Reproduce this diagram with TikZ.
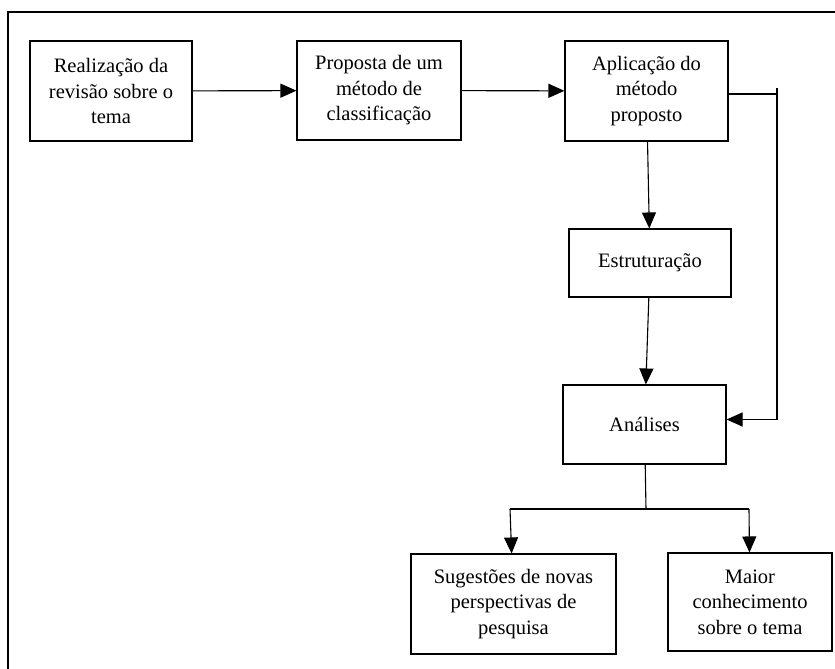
\documentclass[tikz,border=0pt]{standalone}
\usepackage{fontspec}
\setmainfont{Liberation Serif}
\usetikzlibrary{arrows.meta}

\begin{document}
\begin{tikzpicture}[x=1pt,y=-1pt,line width=1.1pt,
    >={Triangle[length=16pt,width=14pt]}]

      \useasboundingbox (0,0) rectangle (835,669);
      \draw[line width=1.3pt] (8,669) -- (8,12) -- (835,12);

      \begin{scope}[every node/.style={rectangle,draw,align=center,inner sep=0pt,
          font=\fontsize{20.5}{25.5}\selectfont}]
        \node[minimum width=162pt,minimum height=100pt] (real) at (111,91)    {Realização da\\revisão sobre o\\tema};
        \node[minimum width=164pt,minimum height=99pt]  (prop) at (379,90.5)  {Proposta de um\\método de\\classificação};
        \node[minimum width=163pt,minimum height=100pt] (apli) at (646.5,91)  {Aplicação do\\método\\proposto};
        \node[minimum width=162pt,minimum height=68pt]  (estr) at (650,263)   {Estruturação};
        \node[minimum width=163pt,minimum height=79pt]  (anal) at (644.5,424.5) {Análises};
        \node[minimum width=205pt,minimum height=100pt] (sug)  at (513.5,604) {Sugestões de novas\\perspectivas de\\pesquisa};
        \node[minimum width=164pt,minimum height=98pt]  (mai)  at (750,602)   {Maior\\conhecimento\\sobre o tema};
      \end{scope}

      \coordinate (side)  at (777,88);
      \coordinate (split) at (646,509);
      \coordinate (left)  at (510,509);
      \coordinate (right) at (749,509);

      \begin{scope}[every path/.style={draw}]
        \path[->] (real) -- (prop);
        \path[->] (prop) -- (apli);
        \path[->] (apli) -- (estr);
        \path[->] (estr) -- (anal);
        \path ([yshift=-3pt]apli.east) -- ([yshift=-3pt]apli.east -| side);
        \path[->] (side) |- ([yshift=5pt]anal.east);
        \path (anal) -- (split);
        \path (left) -- (right);
        \path[->] (left) -- (sug);
        \path[->] (right) -- (mai);
      \end{scope}

    \end{tikzpicture}
\end{document}
